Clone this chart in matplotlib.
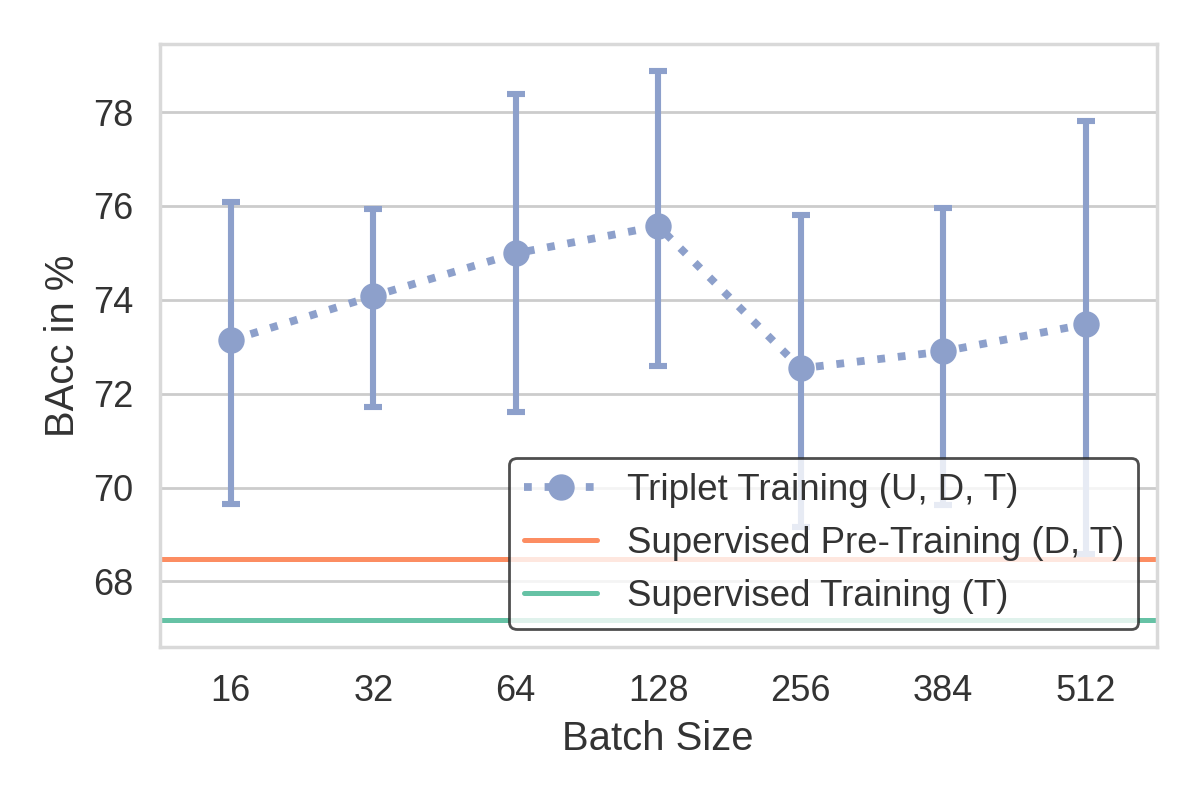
import matplotlib
matplotlib.use("Agg")
import matplotlib.pyplot as plt
from matplotlib.lines import Line2D
import seaborn as sns
import numpy as np

sns.set_theme(style="whitegrid")
plt.rcParams['font.family'] = ['Arial', 'Liberation Sans', 'DejaVu Sans']

batch_sizes = ["16", "32", "64", "128", "256", "384", "512"]
triplet_mean = [73.14, 74.08, 74.99, 75.57, 72.54, 72.90, 73.48]
triplet_low = [69.66, 71.71, 71.60, 72.58, 69.15, 69.62, 68.58]
triplet_high = [76.08, 75.93, 78.38, 78.87, 75.80, 75.95, 77.80]
supervised_pretraining = 68.47
supervised_training = 67.18

pal = sns.color_palette("Set2")
c_green, c_orange, c_blue = pal[0], pal[1], pal[2]

fig = plt.figure(figsize=(6, 4), dpi=200)
ax = fig.add_axes([0.133, 0.191, 0.831, 0.754])

x = np.arange(len(batch_sizes))
mean = np.array(triplet_mean)
yerr = np.vstack([mean - np.array(triplet_low), np.array(triplet_high) - mean])

ax.errorbar(x, mean, yerr=yerr, color=c_blue, linestyle=':', linewidth=2.8,
            marker='o', markersize=8.5, elinewidth=2.2, capsize=3.4, capthick=2.2,
            zorder=3)
ax.axhline(supervised_pretraining, color=c_orange, linewidth=1.8)
ax.axhline(supervised_training, color=c_green, linewidth=1.8)

ax.set_xlim(-0.5, 6.5)
ax.set_ylim(66.6, 79.45)
ax.set_yticks([68, 70, 72, 74, 76, 78])
ax.set_xticks(x)
ax.set_xticklabels(batch_sizes)
ax.grid(axis='x', visible=False)
ax.tick_params(labelsize=13, colors='#333333')
ax.set_xlabel("Batch Size", fontsize=14.4, color='#333333')
ax.set_ylabel("BAcc in %", fontsize=14.4, color='#333333')
for s in ax.spines.values():
    s.set_color('#d9d9d9')

handles = [
    Line2D([], [], color=c_blue, linestyle=':', linewidth=2.8, marker='o', markersize=8.5),
    Line2D([], [], color=c_orange, linewidth=1.8),
    Line2D([], [], color=c_green, linewidth=1.8),
]
labels = ["Triplet Training (U, D, T)", "Supervised Pre-Training (D, T)",
          "Supervised Training (T)"]
leg = ax.legend(handles, labels, loc='lower right', fontsize=13.2, frameon=True,
                edgecolor='#222222', fancybox=True, framealpha=0.8)
for t in leg.get_texts():
    t.set_color('#333333')

fig.savefig("out.png", dpi=200)
